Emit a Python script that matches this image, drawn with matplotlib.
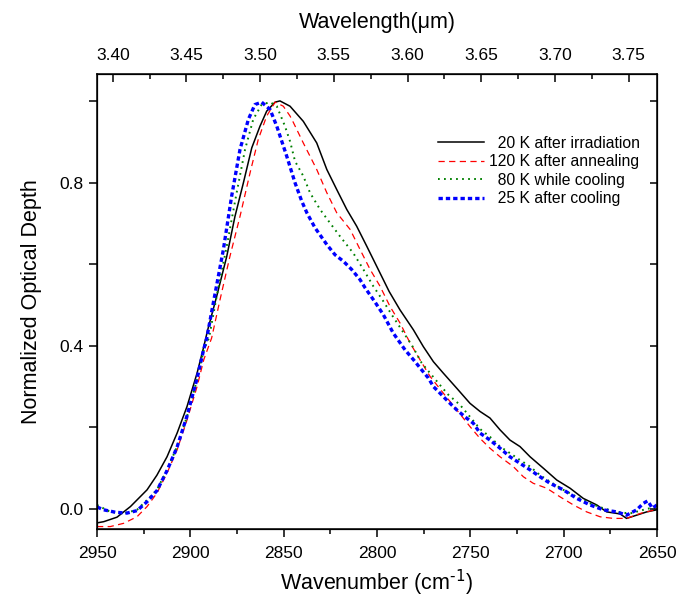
import numpy as np
import matplotlib
matplotlib.use('Agg')
import matplotlib.pyplot as plt
from matplotlib.ticker import MultipleLocator, FormatStrFormatter

plt.rcParams['font.family'] = ['Liberation Sans', 'DejaVu Sans']
plt.rcParams['mathtext.default'] = 'regular'

# 20 K after irradiation
wn_20k = [2950, 2946.4, 2939.3, 2932.1, 2923.2, 2917.9, 2912.5, 2907.1, 2901.8, 2896.4,
          2892.8, 2890.7, 2885.9, 2880.5, 2876.1, 2871.6, 2867.1, 2862.7, 2859.1, 2854.6,
          2852.0, 2846.6, 2839.5, 2832.3, 2826.9, 2821.6, 2816.2, 2810.9, 2805.5, 2800.2,
          2793.5, 2787.7, 2780.5, 2775.2, 2769.8, 2764.5, 2757.3, 2750.2, 2744.8, 2739.5,
          2734.1, 2728.8, 2723.4, 2718.0, 2710.9, 2703.7, 2696.6, 2689.5, 2682.3, 2677.0,
          2669.8, 2666.3, 2660.9, 2655.5, 2650.2]
od_20k = [-0.034, -0.031, -0.020, 0.006, 0.047, 0.083, 0.128, 0.186, 0.251, 0.333,
          0.398, 0.439, 0.521, 0.619, 0.717, 0.799, 0.885, 0.938, 0.975, 0.997,
          1.000, 0.987, 0.950, 0.897, 0.832, 0.783, 0.734, 0.693, 0.644, 0.595,
          0.533, 0.488, 0.439, 0.398, 0.361, 0.333, 0.296, 0.259, 0.239, 0.223,
          0.194, 0.169, 0.153, 0.128, 0.100, 0.071, 0.051, 0.026, 0.010, -0.007,
          -0.012, -0.023, -0.015, -0.007, -0.002]

# 120 K after annealing
wn_120k = [2950, 2942.9, 2935.7, 2928.6, 2923.2, 2917.9, 2912.5, 2907.1, 2901.8, 2896.4,
           2892.8, 2888.6, 2884.1, 2878.8, 2873.4, 2868.0, 2863.6, 2859.1, 2854.6, 2850.2,
           2846.6, 2844.8, 2839.5, 2832.3, 2826.9, 2821.6, 2814.4, 2809.1, 2803.7, 2798.4,
           2793.0, 2787.7, 2782.3, 2777.0, 2771.6, 2764.5, 2757.3, 2750.2, 2744.8, 2739.5,
           2734.1, 2727.0, 2721.6, 2716.3, 2709.1, 2702.0, 2694.8, 2687.7, 2680.5, 2673.4,
           2666.3, 2659.1, 2650.2]
od_120k = [-0.043, -0.043, -0.035, -0.019, 0.006, 0.039, 0.088, 0.145, 0.218, 0.300,
           0.366, 0.419, 0.513, 0.619, 0.717, 0.824, 0.906, 0.963, 0.997, 0.987,
           0.963, 0.947, 0.897, 0.832, 0.775, 0.726, 0.685, 0.636, 0.587, 0.546,
           0.496, 0.456, 0.407, 0.366, 0.325, 0.284, 0.243, 0.202, 0.173, 0.149,
           0.128, 0.104, 0.079, 0.063, 0.051, 0.030, 0.010, -0.007, -0.019, -0.023,
           -0.023, -0.011, -0.001]

# 80 K while cooling
wn_80k = [2950, 2942.9, 2935.7, 2928.6, 2923.2, 2917.9, 2912.5, 2907.1, 2901.8, 2896.4,
          2892.8, 2890.0, 2885.9, 2880.5, 2875.2, 2870.7, 2866.3, 2861.8, 2857.3, 2853.7,
          2849.3, 2846.6, 2843.9, 2839.5, 2835.9, 2830.5, 2825.2, 2819.8, 2812.7, 2807.3,
          2802.0, 2796.6, 2792.1, 2786.8, 2781.4, 2776.1, 2771.6, 2766.3, 2761.8, 2755.5,
          2750.2, 2744.8, 2739.5, 2734.1, 2728.8, 2723.4, 2718.0, 2712.7, 2707.3, 2700.2,
          2693.0, 2685.9, 2678.8, 2671.6, 2664.5, 2657.3, 2650.2]
od_80k = [0.010, -0.007, -0.011, -0.002, 0.022, 0.047, 0.096, 0.153, 0.227, 0.317,
          0.390, 0.419, 0.521, 0.644, 0.775, 0.881, 0.955, 0.991, 0.997, 0.987,
          0.938, 0.901, 0.852, 0.816, 0.775, 0.734, 0.701, 0.668, 0.627, 0.587,
          0.546, 0.509, 0.476, 0.439, 0.402, 0.358, 0.333, 0.304, 0.280, 0.255,
          0.226, 0.196, 0.177, 0.153, 0.137, 0.120, 0.104, 0.083, 0.067, 0.047,
          0.030, 0.014, 0.002, -0.007, -0.011, -0.002, 0.006]

# 25 K after cooling
wn_25k = [2950, 2946.4, 2940.0, 2934.0, 2928.6, 2923.2, 2917.9, 2912.5, 2907.1, 2901.8,
          2896.4, 2892.8, 2891.2, 2887.7, 2882.3, 2877.9, 2873.4, 2868.9, 2865.4, 2861.8,
          2857.3, 2853.7, 2848.4, 2843.9, 2840.3, 2837.5, 2833.2, 2826.9, 2822.5, 2818.0,
          2813.6, 2809.1, 2806.4, 2801.5, 2796.6, 2791.3, 2785.0, 2780.5, 2776.1, 2772.5,
          2769.8, 2766.3, 2761.8, 2757.3, 2752.9, 2748.4, 2744.8, 2739.5, 2734.1, 2728.8,
          2723.4, 2718.0, 2712.7, 2707.3, 2700.2, 2693.0, 2685.9, 2678.8, 2671.6, 2666.3,
          2660.9, 2657.3, 2655.0, 2652.5, 2650.0]
od_25k = [0.005, -0.002, -0.008, -0.010, -0.004, 0.018, 0.045, 0.094, 0.152, 0.228,
          0.320, 0.392, 0.419, 0.505, 0.636, 0.766, 0.881, 0.955, 0.991, 0.997,
          0.979, 0.938, 0.865, 0.799, 0.754, 0.725, 0.689, 0.648, 0.623, 0.607,
          0.587, 0.562, 0.542, 0.510, 0.476, 0.431, 0.390, 0.366, 0.341, 0.321,
          0.300, 0.284, 0.263, 0.243, 0.226, 0.210, 0.186, 0.169, 0.149, 0.128,
          0.112, 0.096, 0.079, 0.063, 0.047, 0.026, 0.010, -0.002, -0.007, -0.015,
          -0.002, 0.014, 0.020, 0.002, 0.010]

labels = ['  20 K after irradiation', '120 K after annealing',
          '  80 K while cooling', '  25 K after cooling']

fig = plt.figure(figsize=(6.77, 6.0), dpi=100)
ax = fig.add_axes([0.1433, 0.1183, 0.8272, 0.7584])

ax.plot(wn_20k, od_20k, color='black', lw=1.1, label=labels[0])
ax.plot(wn_120k, od_120k, color='#ff0000', lw=0.9, dashes=(5, 3.5), label=labels[1])
ax.plot(wn_80k, od_80k, color='#008000', lw=1.4, dashes=(0.9, 2.2), label=labels[2])
ax.plot(wn_25k, od_25k, color='#0000ff', lw=2.4, dashes=(1.3, 0.9), label=labels[3])

ax.set_xlim(2950, 2650)
ax.set_ylim(-0.049, 1.066)

ax.xaxis.set_major_locator(MultipleLocator(50))
ax.xaxis.set_minor_locator(MultipleLocator(25))
ax.yaxis.set_major_locator(MultipleLocator(0.4))
ax.yaxis.set_minor_locator(MultipleLocator(0.2))
ax.yaxis.set_major_formatter(FormatStrFormatter('%.1f'))
ax.tick_params(which='both', direction='out', labelsize=12.5, width=1.1)
ax.tick_params(which='major', length=6)
ax.tick_params(which='minor', length=3.5)
ax.tick_params(axis='y', which='minor', length=6)
ax.tick_params(axis='x', which='major', pad=6)
ax.tick_params(axis='y', which='major', pad=4)

for s in ax.spines.values():
    s.set_linewidth(1.1)

# right axis: inward ticks, no labels
axr = ax.twinx()
axr.set_ylim(ax.get_ylim())
axr.yaxis.set_major_locator(MultipleLocator(0.2))
axr.tick_params(direction='in', length=5, width=1.1, labelright=False)

# top axis: wavelength, linear
axt = ax.twiny()
axt.set_xlim(3.3893, 3.7693)
axt.xaxis.set_major_locator(MultipleLocator(0.05))
axt.xaxis.set_minor_locator(MultipleLocator(0.025))
axt.xaxis.set_major_formatter(FormatStrFormatter('%.2f'))
axt.tick_params(which='both', direction='in', labelsize=12.5, width=1.1, pad=8)
axt.tick_params(which='major', length=6)
axt.tick_params(which='minor', length=3.5)
axt.set_xlabel('Wavelength(\u03bcm)', fontsize=15.5, labelpad=14)

ax.set_xlabel('Wavenumber (cm$^{\\text{-1}}$)', fontsize=15.5, labelpad=5)
ax.set_ylabel('Normalized Optical Depth', fontsize=15.5, labelpad=12)

ax.legend(loc='upper right', bbox_to_anchor=(0.995, 0.895), frameon=False,
          fontsize=11.3, handlelength=2.9, handletextpad=0.35, labelspacing=0.22)

plt.savefig('out.png', dpi=100)
